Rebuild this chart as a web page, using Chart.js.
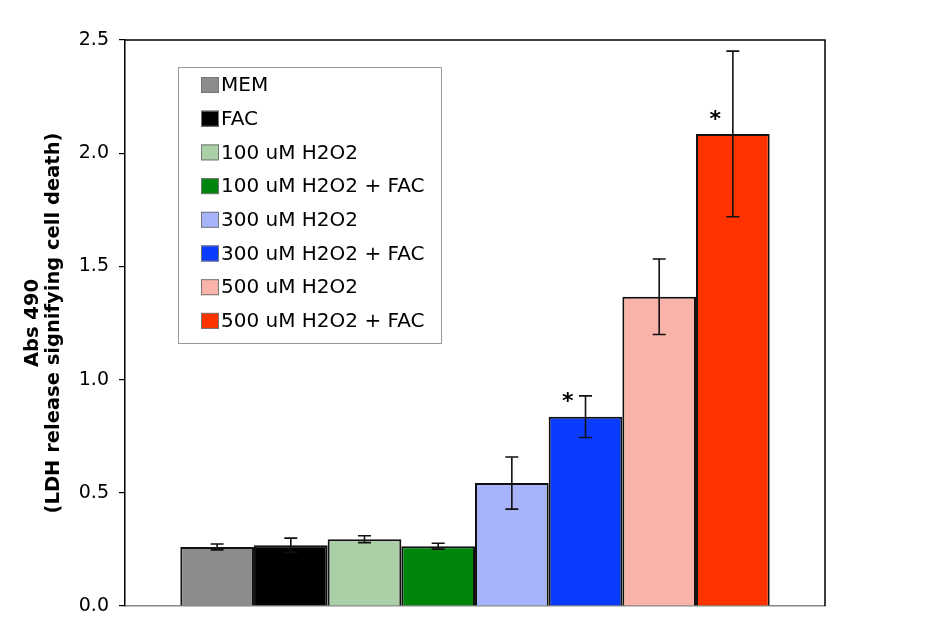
<!DOCTYPE html>
<html>
<head>
<meta charset="utf-8">
<script src="https://cdn.jsdelivr.net/npm/chart.js@4"></script>
<style>
  html, body { margin: 0; padding: 0; background: #fff; }
  canvas { display: block; }
</style>
</head>
<body>
<canvas id="c" width="925" height="639"></canvas>
<script>
const seriesNames = ['MEM', 'FAC', '100 uM H2O2', '100 uM H2O2 + FAC', '300 uM H2O2', '300 uM H2O2 + FAC', '500 uM H2O2', '500 uM H2O2 + FAC'];
const values = [0.261, 0.268, 0.295, 0.264, 0.543, 0.836, 1.366, 2.085];
const errors = [0.013, 0.032, 0.015, 0.013, 0.115, 0.092, 0.167, 0.366];
const significant = [false, false, false, false, false, true, false, true];
const colors = ['#8c8c8c', '#000000', '#abd0a8', '#00850c', '#a7b4fc', '#0a3cff', '#f9b3a9', '#fe3300'];
const yTicks = [0, 0.5, 1.0, 1.5, 2.0, 2.5];

const FONT = '"DejaVu Sans", Verdana, sans-serif';

const datasets = seriesNames.map((name, i) => ({
  label: name,
  data: [values[i]],
  backgroundColor: colors[i],
  borderColor: '#111',
  borderWidth: 2,
  borderSkipped: 'start',
  barPercentage: 1.0,
  categoryPercentage: 0.842
}));

const extrasPlugin = {
  id: 'extras',
  afterDatasetsDraw(chart) {
    const ctx = chart.ctx;
    const y = chart.scales.y;
    const area = chart.chartArea;
    ctx.save();
    // error bars and significance marks
    chart.data.datasets.forEach((ds, i) => {
      const bar = chart.getDatasetMeta(i).data[0];
      const v = values[i], e = errors[i];
      const yt = y.getPixelForValue(v + e);
      const yb = y.getPixelForValue(v - e);
      ctx.strokeStyle = '#111';
      ctx.lineWidth = 1.6;
      ctx.beginPath();
      ctx.moveTo(bar.x, yt); ctx.lineTo(bar.x, yb);
      ctx.moveTo(bar.x - 6.5, yt); ctx.lineTo(bar.x + 6.5, yt);
      ctx.moveTo(bar.x - 6.5, yb); ctx.lineTo(bar.x + 6.5, yb);
      ctx.stroke();
      if (significant[i]) {
        ctx.fillStyle = '#000';
        ctx.font = 'bold 22px ' + FONT;
        ctx.textAlign = 'center';
        ctx.textBaseline = 'middle';
        ctx.fillText('*', bar.x - bar.width * 0.24, bar.y - 14);
      }
    });
    // plot border top / right
    ctx.strokeStyle = '#000';
    ctx.lineWidth = 1.5;
    ctx.beginPath();
    ctx.moveTo(area.left, area.top);
    ctx.lineTo(area.right, area.top);
    ctx.lineTo(area.right, area.bottom);
    ctx.stroke();
    // legend box
    const lx = area.left + 53, ly = area.top + 27, lw = 263, lh = 276;
    ctx.fillStyle = '#fff';
    ctx.fillRect(lx, ly, lw, lh);
    ctx.strokeStyle = '#999';
    ctx.lineWidth = 1;
    ctx.strokeRect(lx + 0.5, ly + 0.5, lw, lh);
    ctx.font = '20px ' + FONT;
    ctx.textAlign = 'left';
    ctx.textBaseline = 'middle';
    chart.data.datasets.forEach((ds, i) => {
      const cy = ly + 18 + i * 33.7;
      ctx.fillStyle = ds.backgroundColor;
      ctx.fillRect(lx + 23, cy - 8, 18, 16);
      ctx.strokeStyle = '#777';
      ctx.lineWidth = 1;
      ctx.strokeRect(lx + 23.5, cy - 7.5, 17, 15);
      ctx.fillStyle = '#000';
      ctx.fillText(ds.label, lx + 43, cy + 1);
    });
    ctx.restore();
  }
};

new Chart(document.getElementById('c'), {
  type: 'bar',
  data: { labels: [''], datasets },
  options: {
    responsive: false,
    devicePixelRatio: 1,
    animation: false,
    layout: { padding: { top: 40, right: 100, left: 0, bottom: 0 } },
    plugins: { legend: { display: false }, tooltip: { enabled: false } },
    scales: {
      x: {
        grid: { display: false },
        ticks: { display: false },
        border: { display: true, color: '#888', width: 1.5 },
        afterFit(s) { s.height = 33; }
      },
      y: {
        min: 0, max: 2.5,
        afterBuildTicks(s) { s.ticks = yTicks.map(v => ({ value: v })); },
        ticks: {
          color: '#000',
          font: { family: FONT, size: 19 },
          padding: 10,
          callback: v => Number(v).toFixed(1)
        },
        grid: { display: true, drawOnChartArea: false, drawTicks: true, tickLength: 6, color: '#000', lineWidth: 1.2 },
        border: { display: true, color: '#000', width: 1.5 },
        title: {
          display: true,
          text: ['Abs 490', '(LDH release signifying cell death)'],
          color: '#000',
          font: { family: FONT, size: 19.5, weight: 'bold', lineHeight: 1.05 },
          padding: { top: 23, bottom: 0 }
        },
        afterFit(s) { s.width = 125; }
      }
    }
  },
  plugins: [extrasPlugin]
});
</script>
</body>
</html>
